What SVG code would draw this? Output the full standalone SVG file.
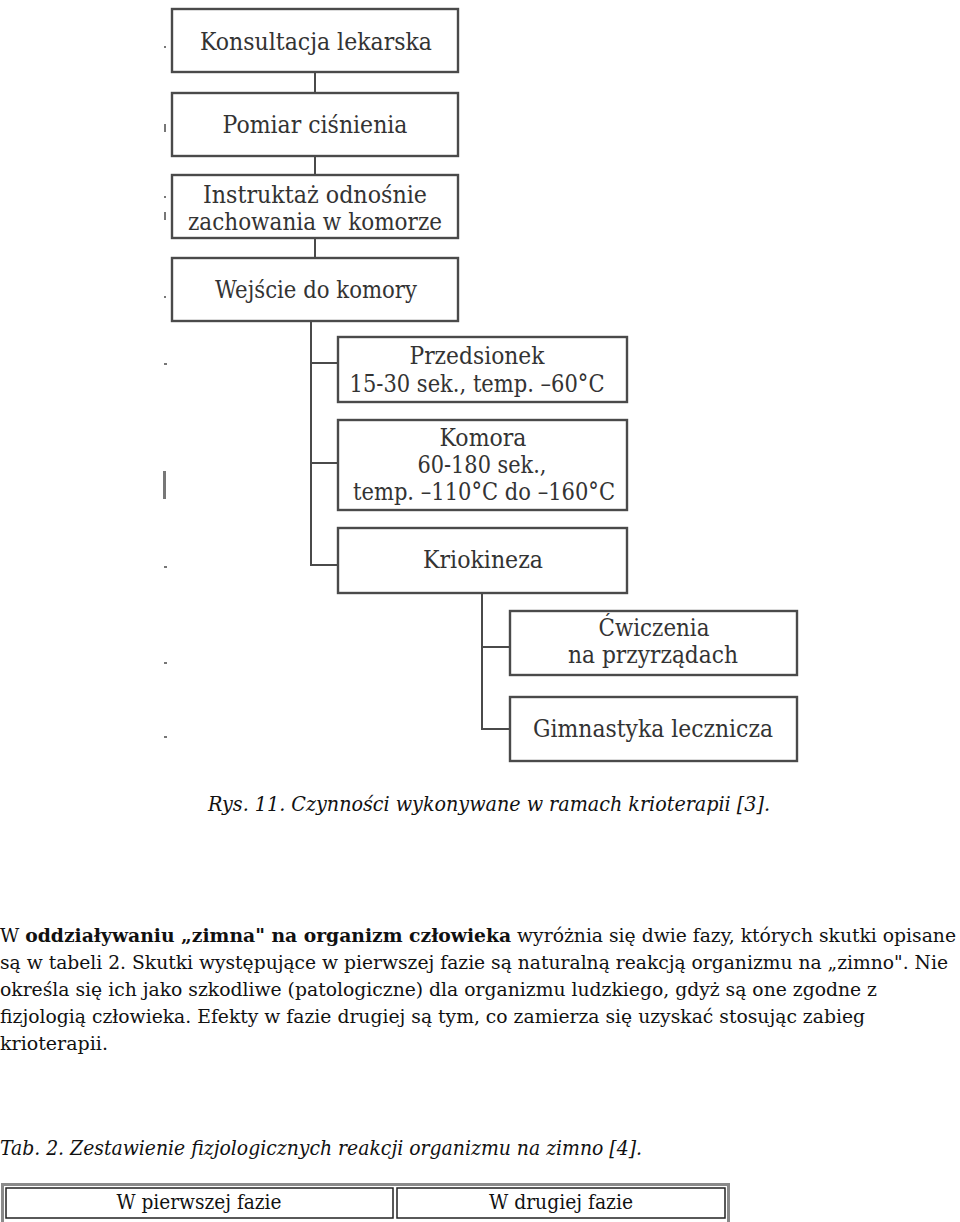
<svg xmlns="http://www.w3.org/2000/svg" width="960" height="1222" viewBox="0 0 960 1222">
<style>
.box{fill:#fff;stroke:#4a4a4a;stroke-width:2.4}
.lbl{font-family:"DejaVu Serif","Liberation Serif",serif;font-size:24px;fill:#333;text-anchor:middle}
.con{fill:none;stroke:#4a4a4a;stroke-width:2}
.body{font-family:"DejaVu Serif","Liberation Serif",serif;font-size:18px;fill:#111}
.cap{font-family:"DejaVu Serif","Liberation Serif",serif;font-stretch:condensed;font-style:italic;font-size:21px;fill:#111}
.cell{font-family:"DejaVu Serif","Liberation Serif",serif;font-stretch:condensed;font-size:20px;fill:#111;text-anchor:middle}
.mark{fill:#777}
</style>
<rect width="960" height="1222" fill="#fff"/>
<g id="connectors">
<path class="con" d="M315 72V93M315 156V175M315 238V258"/>
<path class="con" d="M311 321V565H338M311 363H338M311 463H338"/>
<path class="con" d="M482 593V729H510M482 647H510"/>
</g>
<g id="n1"><rect class="box" x="172" y="9" width="286" height="63"/><text class="lbl" x="316" y="50" textLength="232" lengthAdjust="spacingAndGlyphs">Konsultacja lekarska</text></g>
<g id="n2"><rect class="box" x="172" y="93" width="286" height="63"/><text class="lbl" x="315" y="133" textLength="185" lengthAdjust="spacingAndGlyphs">Pomiar ciśnienia</text></g>
<g id="n3"><rect class="box" x="172" y="175" width="286" height="63"/><text class="lbl" x="315" y="203" textLength="224" lengthAdjust="spacingAndGlyphs">Instruktaż odnośnie</text><text class="lbl" x="315" y="230" textLength="254" lengthAdjust="spacingAndGlyphs">zachowania w komorze</text></g>
<g id="n4"><rect class="box" x="172" y="258" width="286" height="63"/><text class="lbl" x="316" y="298" textLength="202" lengthAdjust="spacingAndGlyphs">Wejście do komory</text></g>
<g id="n5"><rect class="box" x="338" y="337" width="289" height="65"/><text class="lbl" x="477" y="364" textLength="135" lengthAdjust="spacingAndGlyphs">Przedsionek</text><text class="lbl" x="477" y="392" textLength="255" lengthAdjust="spacingAndGlyphs">15-30 sek., temp. –60°C</text></g>
<g id="n6"><rect class="box" x="338" y="420" width="289" height="90"/><text class="lbl" x="483" y="446" textLength="87" lengthAdjust="spacingAndGlyphs">Komora</text><text class="lbl" x="482" y="473" textLength="129" lengthAdjust="spacingAndGlyphs">60-180 sek.,</text><text class="lbl" x="484" y="500" textLength="262" lengthAdjust="spacingAndGlyphs">temp. –110°C do –160°C</text></g>
<g id="n7"><rect class="box" x="338" y="528" width="289" height="65"/><text class="lbl" x="483" y="568" textLength="120" lengthAdjust="spacingAndGlyphs">Kriokineza</text></g>
<g id="n8"><rect class="box" x="510" y="611" width="287" height="64"/><text class="lbl" x="654" y="636" textLength="111" lengthAdjust="spacingAndGlyphs">Ćwiczenia</text><text class="lbl" x="653" y="663" textLength="170" lengthAdjust="spacingAndGlyphs">na przyrządach</text></g>
<g id="n9"><rect class="box" x="510" y="697" width="287" height="64"/><text class="lbl" x="653" y="737" textLength="240" lengthAdjust="spacingAndGlyphs">Gimnastyka lecznicza</text></g>
<g id="marks">
<rect class="mark" x="164" y="46" width="2" height="2"/>
<rect class="mark" x="164" y="124" width="2" height="8"/>
<rect class="mark" x="164" y="196" width="2" height="2"/>
<rect class="mark" x="164" y="212" width="2" height="8"/>
<rect class="mark" x="164" y="296" width="2" height="2"/>
<rect class="mark" x="164" y="363" width="3" height="2"/>
<rect class="mark" x="163" y="471" width="3" height="28"/>
<rect class="mark" x="164" y="566" width="3" height="2"/>
<rect class="mark" x="164" y="662" width="3" height="2"/>
<rect class="mark" x="164" y="736" width="3" height="2"/>
</g>
<text class="cap" x="208" y="811" textLength="562" lengthAdjust="spacingAndGlyphs">Rys. 11. Czynności wykonywane w ramach krioterapii [3].</text>
<g class="body">
<text x="0" y="942" textLength="956" lengthAdjust="spacingAndGlyphs">W <tspan font-weight="bold">oddziaływaniu „zimna" na organizm człowieka</tspan> wyróżnia się dwie fazy, których skutki opisane</text>
<text x="0" y="969" textLength="948" lengthAdjust="spacingAndGlyphs">są w tabeli 2. Skutki występujące w pierwszej fazie są naturalną reakcją organizmu na „zimno". Nie</text>
<text x="0" y="996" textLength="877" lengthAdjust="spacingAndGlyphs">określa się ich jako szkodliwe (patologiczne) dla organizmu ludzkiego, gdyż są one zgodne z</text>
<text x="0" y="1023" textLength="865" lengthAdjust="spacingAndGlyphs">fizjologią człowieka. Efekty w fazie drugiej są tym, co zamierza się uzyskać stosując zabieg</text>
<text x="0" y="1050" textLength="108" lengthAdjust="spacingAndGlyphs">krioterapii.</text>
</g>
<text class="cap" x="0" y="1155" textLength="642" lengthAdjust="spacingAndGlyphs">Tab. 2. Zestawienie fizjologicznych reakcji organizmu na zimno [4].</text>
<g id="table">
<rect x="2.5" y="1184.5" width="726" height="44" fill="none" stroke="#8a8a8a" stroke-width="3"/>
<rect x="6" y="1188" width="387" height="30" fill="none" stroke="#222" stroke-width="1.5"/>
<rect x="397" y="1188" width="328" height="30" fill="none" stroke="#222" stroke-width="1.5"/>
<text class="cell" x="199" y="1209" textLength="165" lengthAdjust="spacingAndGlyphs">W pierwszej fazie</text>
<text class="cell" x="561" y="1209" textLength="144" lengthAdjust="spacingAndGlyphs">W drugiej fazie</text>
</g>
</svg>
